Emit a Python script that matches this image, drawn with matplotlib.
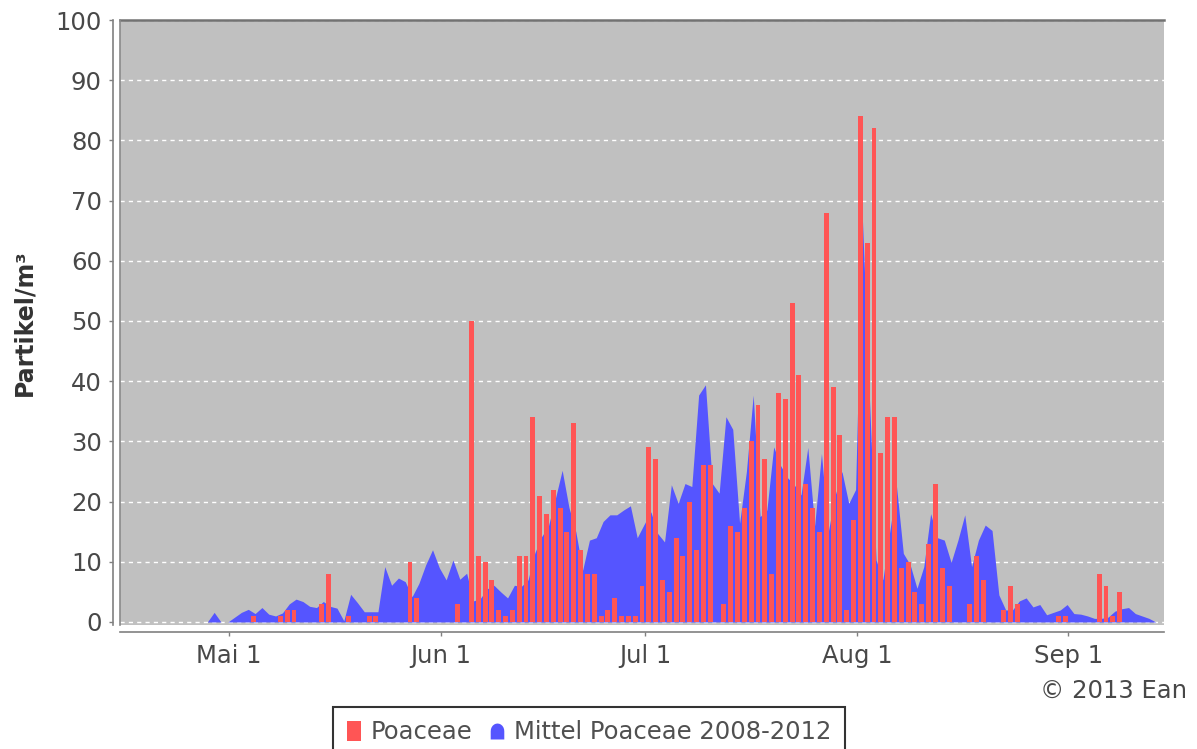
import datetime as dt
import matplotlib
matplotlib.use("Agg")
import matplotlib.pyplot as plt
import matplotlib.dates as mdates
from matplotlib.lines import Line2D
import numpy as np

# first day on the axis, one value per day
start_day = dt.date(2013, 4, 15)
end_day = dt.date(2013, 9, 15)

# Poaceae 2013, daily (Partikel/m3)
poaceae_apr = [0, 0, 0, 0, 0, 0, 0, 0, 0, 0, 0, 0, 0, 0, 0, 0]
poaceae_mai = [0, 0, 0, 1, 0, 0, 0, 1, 2, 2, 0, 0, 0, 3, 8, 0,
               0, 1, 0, 0, 1, 1, 0, 0, 0, 0, 10, 4, 0, 0, 0]
poaceae_jun = [0, 0, 3, 0, 50, 11, 10, 7, 2, 1, 2, 11, 11, 34, 21,
               18, 22, 19, 15, 33, 12, 8, 8, 1, 2, 4, 1, 1, 1, 6]
poaceae_jul = [29, 27, 7, 5, 14, 11, 20, 12, 26, 26, 0, 3, 16, 15, 19, 30,
               36, 27, 8, 38, 37, 53, 41, 23, 19, 15, 68, 39, 31, 2, 17]
poaceae_aug = [84, 63, 82, 28, 34, 34, 9, 10, 5, 3, 13, 23, 9, 6, 0, 0,
               3, 11, 7, 0, 0, 2, 6, 3, 0, 0, 0, 0, 0, 1, 1]
poaceae_sep = [0, 0, 0, 0, 8, 6, 1, 5, 0, 0, 0, 0, 0, 0]

# Mittel Poaceae 2008-2012, daily
mittel_apr = [0, 0, 0, 0, 0, 0, 0, 0, 0, 0, 0, 0, 0, 1.6, 0, 0]
mittel_mai = [0.8, 1.6, 2.1, 1.4, 2.4, 1.3, 1.0, 1.5, 3.0, 3.8, 3.4, 2.6, 2.4,
              3.4, 2.6, 2.3, 0.2, 4.6, 3.2, 1.7, 1.7, 1.7, 9.2, 6.1, 7.3, 6.7,
              4.2, 6.4, 9.5, 12, 9]
mittel_jun = [7, 10.3, 7.1, 8.1, 3.5, 3.9, 5.5, 6.1, 5, 4, 6.1, 5.9, 7, 11.5,
              14.2, 16, 20.5, 25.2, 19, 15, 8.6, 13.6, 14, 16.7, 17.8, 17.8,
              18.6, 19.3, 14, 16.2]
mittel_jul = [18.3, 14.7, 13.3, 22.8, 19.7, 23, 22.5, 37.7, 39.4, 23, 21.4,
              34.1, 32, 16.4, 25, 37.7, 17.5, 18.6, 29.1, 26, 24, 22.8, 21.1,
              29, 16, 28, 15, 21, 25, 19.7, 22]
mittel_aug = [67, 38, 10.3, 7, 15, 22.5, 11.4, 9.5, 5.6, 9.2, 18, 14, 13.6,
              9.9, 13.6, 17.8, 9.2, 13.6, 16.1, 15.2, 4.5, 2, 2, 3.5, 4, 2.5,
              2.9, 1.2, 1.6, 2, 2.9]
mittel_sep = [1.4, 1.3, 1, 0.6, 0.6, 0.8, 1.8, 2.2, 2.4, 1.4, 1.0, 0.6, 0, 0]

month_ticks = [dt.date(2013, 5, 1), dt.date(2013, 6, 1), dt.date(2013, 7, 1),
               dt.date(2013, 8, 1), dt.date(2013, 9, 1)]
month_labels = ["Mai 1", "Jun 1", "Jul 1", "Aug 1", "Sep 1"]
y_ticks = [0, 10, 20, 30, 40, 50, 60, 70, 80, 90, 100]

BAR_RED = "#ff5555"
AREA_BLUE = "#5555ff"
TEXT = "#484848"
AXIS = "#808080"

W, H = 1197, 749


def legend_handles():
    bar_mark = [(-0.65, -1), (0.65, -1), (0.65, 1), (-0.65, 1), (-0.65, -1)]
    # small dome: flat base, straight sides, round top
    t = np.linspace(0, np.pi, 13)
    dome = [(-0.85, -1), (0.85, -1)]
    dome += [(0.85 * np.cos(a), 0.05 + 0.95 * np.sin(a)) for a in t]
    dome += [(-0.85, -1)]
    h1 = Line2D([], [], ls="none", marker=bar_mark, markersize=14.5,
                color=BAR_RED, markeredgewidth=0)
    h2 = Line2D([], [], ls="none", marker=dome, markersize=11.5,
                color=AREA_BLUE, markeredgewidth=0)
    return [h1, h2]


def main():
    poaceae = poaceae_apr + poaceae_mai + poaceae_jun + poaceae_jul + poaceae_aug + poaceae_sep
    mittel = mittel_apr + mittel_mai + mittel_jun + mittel_jul + mittel_aug + mittel_sep
    days = [start_day + dt.timedelta(days=i) for i in range(len(poaceae))]
    x = mdates.date2num(days)

    fig = plt.figure(figsize=(W / 100, H / 100), dpi=100)
    ax = fig.add_axes([120 / W, 1 - 625 / H, (1164 - 120) / W, (625 - 20) / H])
    ax.set_facecolor("#c0c0c0")

    ax.fill_between(x + 0.8, 0, mittel, color=AREA_BLUE, lw=0, zorder=2)
    ax.bar(x + 0.5, poaceae, width=0.72, color=BAR_RED, lw=0, zorder=3)

    ax.set_xlim(mdates.date2num(start_day), mdates.date2num(end_day))
    ax.set_ylim(-0.5, 100)
    ax.set_yticks(y_ticks)
    ax.set_xticks(mdates.date2num(month_ticks))
    ax.set_xticklabels(month_labels)

    ax.set_axisbelow(True)
    ax.grid(axis="y", color="white", linestyle=(0, (3, 3)), lw=1)
    ax.grid(axis="x", visible=False)

    for s in ["top", "right"]:
        ax.spines[s].set_visible(False)
    for s in ["left", "bottom"]:
        ax.spines[s].set_position(("outward", 5))
        ax.spines[s].set_color(AXIS)
        ax.spines[s].set_linewidth(1.2)
    # plot outline: dark on top and left only
    ax.plot([0, 1], [1, 1], transform=ax.transAxes, color="#727272", lw=1.8,
            zorder=6, clip_on=False)
    ax.plot([0, 0], [0, 1], transform=ax.transAxes, color="#8a8a8a", lw=1.2,
            zorder=6, clip_on=False)

    ax.tick_params(axis="both", colors=AXIS, labelcolor=TEXT, labelsize=17.5,
                   length=3, width=1)
    ax.tick_params(axis="x", pad=6)
    ax.tick_params(axis="y", pad=5)

    ax.set_ylabel("Partikel/m³", fontsize=17, fontweight="bold", color="#333333")
    ax.yaxis.set_label_coords(-0.08, 0.5)

    fig.text(1187 / W, 1 - 691 / H, "© 2013 Ean", ha="right", va="center",
             fontsize=17.5, color=TEXT)

    leg = fig.legend(legend_handles(), ["Poaceae", "Mittel Poaceae 2008-2012"],
                     loc="upper center", bbox_to_anchor=(589 / W, 1 - 707 / H),
                     ncol=2, frameon=True, fancybox=False, edgecolor="black",
                     fontsize=17.5, handlelength=0.6, handletextpad=0.4,
                     columnspacing=0.7, borderpad=0.55, borderaxespad=0)
    leg.get_frame().set_linewidth(1.5)
    for t in leg.get_texts():
        t.set_color("#505050")

    fig.savefig("out.png", dpi=100)


if __name__ == "__main__":
    main()
